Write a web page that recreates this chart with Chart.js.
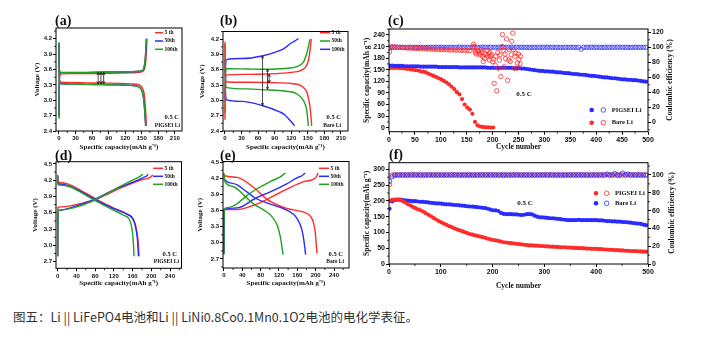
<!DOCTYPE html>
<html>
<head>
<meta charset="utf-8">
<script src="https://cdn.jsdelivr.net/npm/chart.js@4/dist/chart.umd.min.js"></script>
<style>
  body { margin: 0; background: #fff; width: 706px; height: 338px; position: relative; overflow: hidden; }
  canvas { position: absolute; }
  #cap { position: absolute; left: 13px; top: 308px; font: 12.5px 'Noto Sans CJK SC', sans-serif; color: #333; white-space: nowrap; line-height: 17px; }
</style>
</head>
<body>
<canvas id="pa"></canvas>
<canvas id="pb"></canvas>
<canvas id="pc"></canvas>
<canvas id="pd"></canvas>
<canvas id="pe"></canvas>
<canvas id="pf"></canvas>
<div id="cap">图五：Li || LiFePO4电池和Li || LiNi0.8Co0.1Mn0.1O2电池的电化学表征。</div>
<script>
// ---- tick labels ----
const aXTicks = [0, 30, 60, 90, 120, 150, 180, 210];
const aYTicks = [2.4, 2.7, 3.0, 3.3, 3.6, 3.9, 4.2];
const dXTicks = [0, 40, 80, 120, 160, 200, 240];
const dYTicks = [2.7, 3.0, 3.3, 3.6, 3.9, 4.2, 4.5];
const cXTicks = [0, 50, 100, 150, 200, 250, 300, 350, 400, 450, 500];
const cYTicks = [0, 30, 60, 90, 120, 150, 180, 210, 240];
const cY2Ticks = [0, 20, 40, 60, 80, 100, 120];
const fXTicks = [0, 100, 200, 300, 400, 500];
const fYTicks = [0, 50, 100, 150, 200, 250, 300];
const fY2Ticks = [0, 20, 40, 60, 80, 100];

const cycleLabels = ['5 th', '50th', '100th'];

// ---- (a) PIGSEI Li | LiFePO4 ----
const aRedChgX = [0, 0.5, 2, 5, 20, 50, 80, 110, 130, 145, 152, 155, 157, 158.5, 159.5];
const aRedChgV = [2.68, 3.30, 3.50, 3.515, 3.52, 3.52, 3.525, 3.53, 3.535, 3.545, 3.565, 3.61, 3.74, 3.95, 4.2];
const aRedDisX = [0, 0.5, 2, 5, 20, 50, 80, 110, 130, 145, 150, 154, 156, 157.5, 158.5];
const aRedDisV = [4.1, 3.5, 3.36, 3.35, 3.345, 3.34, 3.335, 3.33, 3.32, 3.30, 3.26, 3.15, 2.95, 2.7, 2.5];
const aBluChgX = [0, 0.5, 2, 5, 20, 50, 80, 110, 130, 145, 151, 154, 156, 157.5, 158.5];
const aBluChgV = [2.7, 3.35, 3.53, 3.545, 3.545, 3.545, 3.55, 3.55, 3.555, 3.565, 3.58, 3.63, 3.76, 3.96, 4.2];
const aBluDisX = [0, 0.5, 2, 5, 20, 50, 80, 110, 130, 143, 148, 152, 154.5, 156, 157];
const aBluDisV = [4.12, 3.45, 3.32, 3.32, 3.315, 3.31, 3.305, 3.30, 3.29, 3.27, 3.23, 3.12, 2.92, 2.68, 2.5];
const aGrnChgX = [0, 0.5, 1.5, 3, 20, 50, 80, 110, 130, 145, 151, 154, 156, 157.5, 158.5];
const aGrnChgV = [2.64, 3.4, 3.58, 3.54, 3.54, 3.54, 3.545, 3.55, 3.555, 3.565, 3.58, 3.63, 3.78, 4.0, 4.2];
const aGrnDisX = [0, 0.5, 2, 5, 20, 50, 80, 110, 130, 143, 148, 152, 154.5, 156, 157.5];
const aGrnDisV = [4.13, 3.5, 3.33, 3.32, 3.315, 3.31, 3.305, 3.30, 3.29, 3.27, 3.23, 3.13, 2.93, 2.7, 2.52];
const aArrows = [[71, 3.32, 3.54], [76, 3.32, 3.54], [81, 3.32, 3.54]];

// ---- (b) Bare Li | LiFePO4 ----
const bRedChgX = [0, 0.5, 3, 40, 82, 120, 136, 145, 148, 151, 154, 155.5, 156.5];
const bRedChgV = [2.62, 3.30, 3.50, 3.51, 3.52, 3.55, 3.58, 3.64, 3.69, 3.78, 3.98, 4.12, 4.2];
const bRedDisX = [0, 0.5, 3, 40, 82, 120, 136, 145, 148, 151, 154, 156, 157];
const bRedDisV = [4.15, 3.55, 3.36, 3.355, 3.35, 3.33, 3.30, 3.22, 3.17, 3.05, 2.87, 2.65, 2.5];
const bGrnChgX = [0, 0.5, 3, 40, 67, 110, 130, 142, 148, 151, 153, 154];
const bGrnChgV = [2.75, 3.40, 3.62, 3.615, 3.61, 3.625, 3.66, 3.75, 3.92, 4.05, 4.15, 4.2];
const bGrnDisX = [0, 0.5, 3, 40, 67, 110, 130, 142, 146, 148, 150, 151];
const bGrnDisV = [4.1, 3.5, 3.25, 3.225, 3.21, 3.18, 3.13, 3.0, 2.9, 2.81, 2.62, 2.5];
const bBluChgX = [0, 0.5, 3, 30, 67, 100, 110, 118, 126, 133];
const bBluChgV = [3.0, 3.5, 3.80, 3.82, 3.87, 3.98, 4.04, 4.11, 4.16, 4.21];
const bBluDisX = [0, 0.5, 3, 30, 67, 100, 108, 115, 121, 126];
const bBluDisV = [3.8, 3.3, 3.01, 2.98, 2.90, 2.77, 2.72, 2.64, 2.57, 2.5];
const bArrows = [[68, 2.9, 3.87], [77, 3.22, 3.61], [80, 3.35, 3.51]];

// ---- (d) PIGSEI Li | NCM811 ----
const dRedChgX = [0, 0.5, 5, 33, 62, 83, 110, 140, 176, 194, 200, 203];
const dRedChgV = [2.82, 3.70, 3.71, 3.74, 3.80, 3.85, 3.96, 4.08, 4.2, 4.24, 4.27, 4.3];
const dRedDisX = [0, 0.5, 4, 23, 48, 83, 119, 147, 162, 168, 171.5, 174];
const dRedDisV = [4.3, 4.17, 4.16, 4.13, 4.02, 3.85, 3.69, 3.58, 3.47, 3.31, 3.1, 2.8];
const dBluChgX = [0, 0.5, 4, 33, 76, 119, 162, 183, 190, 193];
const dBluChgV = [2.8, 3.62, 3.65, 3.71, 3.84, 4.02, 4.17, 4.25, 4.28, 4.31];
const dBluDisX = [0, 0.5, 4, 23, 48, 83, 119, 147, 162, 167, 170.5, 172.5];
const dBluDisV = [4.28, 4.14, 4.13, 4.10, 4.0, 3.83, 3.68, 3.58, 3.47, 3.31, 3.1, 2.8];
const dGrnChgX = [0, 0.5, 4, 33, 76, 119, 162, 176, 182];
const dGrnChgV = [2.8, 3.63, 3.65, 3.69, 3.82, 4.02, 4.21, 4.27, 4.31];
const dGrnDisX = [0, 0.5, 4, 26, 55, 83, 119, 140, 155, 160, 162, 163];
const dGrnDisV = [4.28, 4.12, 4.11, 4.08, 3.95, 3.81, 3.65, 3.56, 3.44, 3.22, 3.0, 2.8];

// ---- (e) Bare Li | NCM811 ----
const eRedChgX = [0, 0.5, 29, 65, 94, 137, 174, 195, 202, 205];
const eRedChgV = [2.8, 3.62, 3.62, 3.70, 3.81, 4.0, 4.14, 4.18, 4.24, 4.3];
const eRedDisX = [0, 2, 29, 65, 94, 137, 174, 188, 195, 199, 201, 203];
const eRedDisV = [4.28, 4.25, 4.22, 4.03, 3.81, 3.64, 3.57, 3.5, 3.38, 3.2, 3.0, 2.8];
const eBluChgX = [0, 0.5, 29, 69, 101, 137, 159, 170, 177];
const eBluChgV = [2.8, 3.62, 3.65, 3.83, 3.95, 4.1, 4.21, 4.25, 4.3];
const eBluDisX = [0, 2, 29, 50, 69, 101, 137, 159, 170, 175, 178];
const eBluDisV = [4.2, 4.17, 4.08, 3.95, 3.83, 3.72, 3.61, 3.46, 3.24, 3.0, 2.78];
const eGrnChgX = [0, 0.5, 10, 29, 47, 65, 101, 123, 134];
const eGrnChgV = [2.78, 3.63, 3.66, 3.73, 3.86, 3.97, 4.14, 4.23, 4.3];
const eGrnDisX = [0, 2, 20, 47, 65, 87, 101, 116, 123, 129];
const eGrnDisV = [4.3, 4.14, 4.05, 3.86, 3.72, 3.61, 3.52, 3.33, 3.11, 2.78];

// ---- cycling: one point every 5 cycles ----
const cycles5 = Array.from({ length: 100 }, (_, i) => 1 + 5 * i);

// (c) LiFePO4, 0.5 C
const cPigCap = [161, 161, 160, 160, 160, 160, 159, 159, 159, 159,
  159, 159, 158, 158, 158, 158, 158, 158, 158, 157,
  157, 157, 157, 157, 157, 157, 157, 156, 156, 156,
  156, 156, 156, 156, 156, 156, 156, 156, 155, 155,
  155, 155, 155, 155, 155, 155, 155, 155, 154, 154,
  154, 153, 153, 152, 151, 150, 149, 148, 147, 147,
  146, 146, 145, 145, 144, 143, 143, 142, 141, 141,
  140, 139, 139, 138, 137, 137, 136, 135, 134, 134,
  133, 132, 131, 130, 130, 129, 128, 128, 127, 126,
  125, 125, 124, 124, 123, 123, 122, 121, 120, 119];
const cPigCe = [99.5, 100, 100, 100.2, 100, 100, 99.8, 100, 100, 100,
  100, 100.2, 100, 100, 99.8, 100, 100, 100, 100.2, 100,
  100, 100, 99.8, 100, 100, 100, 100, 100.2, 100, 100,
  100, 99.8, 100, 100, 100, 100, 100.2, 100, 100, 100,
  100, 100, 100, 99.8, 100, 100, 100, 100, 100, 100.2,
  100, 100, 100, 100, 99.6, 100, 100, 100, 100, 100,
  100, 100.2, 100, 100, 100, 100, 99.8, 100, 100, 100,
  100, 100, 100, 100, 97.5, 100, 100, 100, 100.2, 100,
  100, 100, 99.8, 100, 100, 100, 100, 100, 100.2, 100,
  100, 100, 100, 99.8, 100, 100, 100, 100, 100, 100];
const cBareCap = [154, 155, 155, 155, 154, 154, 153, 152, 151, 150,
  149, 148, 146, 145, 143, 140, 137, 134, 131, 128,
  125, 121, 117, 112, 106, 100, 92, 86, 74, 60,
  52, 47, 36, 15, 6, 3, 2, 1, 1, 0.5, 0.5];
const cBareCe = [94, 101, 100.5, 100, 100, 99.5, 99.5, 99, 99, 98.8,
  98.5, 98.5, 98.2, 98, 98, 97.8, 97.5, 97.5, 97.3, 97,
  97, 97, 96.8, 96.5, 96.5, 96.5, 96.3, 96.2, 96, 96, 95.8, 95.5];
const cBareCeLateCyc = [163, 164, 166, 167, 169, 171, 173, 174, 176, 178, 179, 181, 182, 184, 185,
  187, 189, 191, 192, 194, 195, 196, 198, 200, 202, 203, 205, 206, 208, 210,
  211, 213, 214, 216, 218, 219, 221, 222, 224, 225, 227, 229, 231, 232, 234,
  236, 237, 239, 240, 242, 243, 245, 247, 248, 250, 251, 253, 254];
const cBareCeLate = [104, 101, 96, 93, 91, 96, 94, 92, 90, 97, 93, 88, 81, 85, 92,
  90, 96, 88, 91, 83, 93, 88, 90, 81, 84, 52, 76, 88, 42, 93,
  72, 83, 90, 61, 101, 117, 96, 74, 91, 85, 111, 56, 83, 97, 81,
  90, 108, 119, 97, 72, 88, 92, 72, 79, 91, 84, 78, 88];

// (f) NCM811, 0.5 C
const fPigCap = [200, 203, 204, 204, 203, 200, 195, 190, 186, 181,
  177, 173, 170, 166, 161, 156, 151, 146, 141, 136,
  132, 128, 124, 120, 117, 113, 110, 107, 104, 101,
  98, 95, 93, 91, 89, 87, 85, 83, 80, 78,
  76, 75, 73, 71, 69, 68, 67, 66, 65, 64,
  63, 62, 61, 60, 59, 59, 58, 58, 57, 57,
  56, 56, 55, 55, 54, 54, 53, 53, 53, 52,
  52, 51, 51, 50, 50, 50, 49, 49, 48, 48,
  48, 47, 47, 46, 46, 45, 45, 44, 44, 43,
  43, 42, 42, 41, 41, 41, 40, 40, 39, 39];
const fBareCap = [175, 198, 202, 204, 204, 203, 202, 201, 200, 199,
  199, 198, 197, 197, 196, 195, 194, 193, 192, 192,
  191, 190, 189, 189, 188, 187, 187, 186, 185, 184,
  183, 182, 182, 181, 180, 179, 178, 177, 175, 172,
  170, 170, 168, 162, 159, 158, 158, 158, 157, 157,
  156, 155, 156, 158, 158, 157, 153, 150, 148, 148,
  147, 146, 145, 145, 144, 143, 142, 141, 140, 139,
  139, 139, 139, 140, 139, 139, 139, 139, 139, 139,
  139, 138, 138, 137, 136, 136, 135, 135, 134, 134,
  133, 133, 132, 131, 130, 129, 128, 127, 125, 123];
const fPigCe = [89, 100, 100.5, 100, 100.2, 100, 99.8, 100, 100, 100.2,
  100, 100, 100, 99.8, 100, 100, 100.2, 100, 100, 100,
  100, 99.8, 100, 100, 100, 100.2, 100, 100, 100, 100,
  100, 100, 99.8, 100, 100, 100, 100, 100.2, 100, 100,
  100, 100, 100, 100, 99.8, 100, 100, 100, 100, 100.2,
  100, 100, 100, 100, 100, 99.8, 100, 100, 100, 100,
  100.2, 100, 100, 100, 100, 100, 99.8, 100, 100, 100,
  100, 100, 100.2, 100, 100, 100, 100, 99.8, 100, 100,
  100, 100, 100, 100, 100.2, 100, 100, 100, 99.8, 100,
  100, 100, 100, 100, 100.2, 100, 100, 100, 100, 100];
const fBareCe = [93, 98, 99.5, 100, 100, 100, 100, 100, 100, 100,
  100, 100, 100, 100, 100, 100, 100, 100, 100, 100,
  100, 100, 100, 100, 100, 100, 100, 100, 100, 100,
  100, 100, 100, 100, 100, 100, 100, 100, 100, 100,
  100, 100, 100, 100, 100, 100, 100, 100, 100, 100,
  100, 100, 100, 100, 100, 100, 100, 100, 100, 100,
  100, 100, 100, 100, 100, 100, 100, 100, 100, 100,
  100, 100, 100, 100, 100, 100, 100, 100, 100, 100,
  100, 100, 100, 100, 101, 100, 100, 101.5, 100, 100,
  102, 100, 101, 100, 100, 100, 100, 100, 100, 100];

// ---- styling ----
const RED = '#ff2b2b', BLUE = '#2b2bff', GREEN = '#21a021';
const SERIF = "'Liberation Serif', 'Times New Roman', serif";
const SANS = "'Liberation Sans', Arial, sans-serif";
const capTitle = 'Specific capacity(mAh g\u207B\u00B9)';

const pts = (xs, ys) => xs.map((x, i) => ({ x, y: ys[i] }));

const vCurve = (label, color, order, cx, cv, dx, dv) => ({
  label, order, borderColor: color, backgroundColor: color,
  showLine: true, pointRadius: 0, borderWidth: 1.4, spanGaps: false,
  cubicInterpolationMode: 'monotone',
  data: pts(cx, cv).concat([{ x: null, y: null }], pts(dx, dv))
});

const dots = (label, color, order, xs, ys, open, axis) => ({
  label, order, yAxisID: axis || 'y', data: pts(xs, ys), showLine: false,
  pointRadius: open ? 2.2 : 2.1,
  pointBorderWidth: open ? 0.8 : 0,
  pointBackgroundColor: open ? 'rgba(0,0,0,0)' : color,
  pointBorderColor: color
});

// extra drawing: frame, minor ticks, panel letters, notes, legends, arrows
const extras = {
  id: 'extras',
  afterDraw(chart, args, o) {
    const ctx = chart.ctx, a = chart.chartArea;
    ctx.save();
    ctx.strokeStyle = '#000';
    ctx.lineWidth = 0.8;
    Object.values(chart.scales).forEach(s => {
      const vals = s.ticks.map(t => t.value);
      if (vals.length < 2) return;
      const half = (vals[1] - vals[0]) / 2;
      ctx.beginPath();
      vals.concat([vals[vals.length - 1] + 2 * half]).forEach(v => {
        const m = v - half;
        if (m < s.min || m > s.max) return;
        const p = s.getPixelForValue(m);
        if (s.axis === 'x') { ctx.moveTo(p, a.bottom); ctx.lineTo(p, a.bottom + 2); }
        else if (s.position === 'left') { ctx.moveTo(a.left, p); ctx.lineTo(a.left - 2, p); }
        else { ctx.moveTo(a.right, p); ctx.lineTo(a.right + 2, p); }
      });
      ctx.stroke();
    });
    ctx.lineWidth = 1;
    ctx.strokeRect(a.left, a.top, a.right - a.left, a.bottom - a.top);

    if (o.arrows) {
      const xs = chart.scales.x, ys = chart.scales.y;
      ctx.lineWidth = 0.7;
      o.arrows.forEach(([x, v1, v2]) => {
        const X = xs.getPixelForValue(x), Y1 = ys.getPixelForValue(v1), Y2 = ys.getPixelForValue(v2);
        ctx.beginPath();
        ctx.moveTo(X, Y1); ctx.lineTo(X, Y2);
        ctx.moveTo(X - 1.3, Y1 - 2.5); ctx.lineTo(X, Y1); ctx.lineTo(X + 1.3, Y1 - 2.5);
        ctx.moveTo(X - 1.3, Y2 + 2.5); ctx.lineTo(X, Y2); ctx.lineTo(X + 1.3, Y2 + 2.5);
        ctx.stroke();
      });
    }

    // page coordinates from here
    ctx.translate(-o.ox, -o.oy);
    ctx.fillStyle = '#111';
    ctx.textBaseline = 'middle';
    (o.texts || []).forEach(t => {
      ctx.save();
      ctx.font = `bold ${t.size}px ${SERIF}`;
      ctx.textAlign = t.align || 'left';
      ctx.translate(t.x, t.y);
      if (t.rot) ctx.rotate(t.rot);
      ctx.fillText(t.text, 0, 0);
      ctx.restore();
    });
    if (o.lines) {
      const L = o.lines;
      ctx.font = `bold ${L.size}px ${SERIF}`;
      ctx.textAlign = 'left';
      chart.data.datasets.forEach((d, i) => {
        const y = L.y + i * L.dy;
        ctx.strokeStyle = d.borderColor;
        ctx.lineWidth = 1.5;
        ctx.beginPath(); ctx.moveTo(L.x, y); ctx.lineTo(L.x + L.len, y); ctx.stroke();
        ctx.fillText(d.label, L.x + L.len + 1.5, y);
      });
    }
    if (o.marks) {
      const M = o.marks, ds = chart.data.datasets;
      ctx.font = `bold ${M.size}px ${SERIF}`;
      ctx.textAlign = 'left';
      M.pairs.forEach(([fi, oi], r) => {
        const y = M.y + r * M.dy;
        ctx.fillStyle = ds[fi].pointBackgroundColor;
        ctx.beginPath(); ctx.arc(M.x1, y, 2.3, 0, Math.PI * 2); ctx.fill();
        ctx.strokeStyle = ds[oi].pointBorderColor; ctx.lineWidth = 0.8;
        ctx.beginPath(); ctx.arc(M.x2, y, 2.3, 0, Math.PI * 2); ctx.stroke();
        ctx.fillStyle = '#111';
        ctx.fillText(ds[fi].label, M.x3, y);
      });
    }
    ctx.restore();
  }
};

function makePanel(id, rect, area, p) {
  const lh = p.titleSize * 1.2;
  const padL = p.yTitleX - rect.l - lh / 2;
  const xBottom = p.xTitleY + lh / 2;
  const rW = p.y2 ? p.y2.width : 0;
  const cv = document.getElementById(id);
  cv.width = rect.w; cv.height = rect.h;
  cv.style.left = rect.l + 'px'; cv.style.top = rect.t + 'px';
  const titleFont = { family: SERIF, size: p.titleSize, weight: 'bold', lineHeight: 1.2 };
  const axis = spec => ({
    type: 'linear', min: spec.min, max: spec.max,
    afterBuildTicks: s => { s.ticks = spec.ticks.map(v => ({ value: v })); },
    grid: { drawOnChartArea: false, color: '#000', tickLength: 3, lineWidth: 1 },
    border: { display: false },
    ticks: {
      autoSkip: false, maxRotation: 0, padding: 1, color: '#111',
      font: { family: SANS, size: p.tickSize, weight: 'bold' },
      callback: spec.fmt || (v => v)
    }
  });
  const scales = {
    x: Object.assign(axis(p.x), {
      position: 'bottom',
      title: { display: true, text: p.x.title, font: titleFont, padding: 0, color: '#111' },
      afterFit: s => { s.height = xBottom - area.B; }
    }),
    y: Object.assign(axis(p.y), {
      position: 'left',
      title: { display: true, text: p.y.title, font: titleFont, padding: 0, color: '#111' },
      afterFit: s => { s.width = area.L - rect.l - padL; }
    })
  };
  if (p.y2) {
    scales.y2 = Object.assign(axis(p.y2), { position: 'right', afterFit: s => { s.width = rW; } });
  }
  p.extras.ox = rect.l; p.extras.oy = rect.t;
  return new Chart(cv, {
    type: 'scatter',
    data: { datasets: p.datasets },
    options: {
      responsive: false, animation: false, devicePixelRatio: 1, events: [],
      layout: { padding: { top: area.T - rect.t, right: rect.l + rect.w - area.R - rW, bottom: rect.t + rect.h - xBottom, left: padL } },
      scales,
      plugins: { legend: { display: false }, tooltip: { enabled: false }, extras: p.extras }
    },
    plugins: [extras]
  });
}

const volt = v => v.toFixed(1);

// (a)
makePanel('pa', { l: 0, t: 0, w: 195, h: 152 }, { L: 56, T: 28, R: 182, B: 131 }, {
  titleSize: 7, tickSize: 6, yTitleX: 36.7, xTitleY: 146.7,
  x: { min: -5.4, max: 223, ticks: aXTicks, title: capTitle },
  y: { min: 2.4, max: 4.41, ticks: aYTicks, title: 'Voltage (V)', fmt: volt },
  datasets: [
    vCurve(cycleLabels[0], RED, 2, aRedChgX, aRedChgV, aRedDisX, aRedDisV),
    vCurve(cycleLabels[1], BLUE, 1, aBluChgX, aBluChgV, aBluDisX, aBluDisV),
    vCurve(cycleLabels[2], GREEN, 0, aGrnChgX, aGrnChgV, aGrnDisX, aGrnDisV)
  ],
  extras: {
    arrows: aArrows,
    lines: { x: 155, y: 32.7, dy: 8.3, len: 8, size: 5.5 },
    texts: [
      { text: '(a)', x: 55, y: 21, size: 14 },
      { text: '0.5 C', x: 179, y: 117.3, size: 6.5, align: 'right' },
      { text: 'PIGSEI Li', x: 180, y: 125.3, size: 5.5, align: 'right' }
    ]
  }
});

// (b)
makePanel('pb', { l: 185, t: 0, w: 175, h: 152 }, { L: 223, T: 31.5, R: 348, B: 131 }, {
  titleSize: 7, tickSize: 6, yTitleX: 201.7, xTitleY: 146.7,
  x: { min: -3.6, max: 222.8, ticks: aXTicks, title: capTitle },
  y: { min: 2.4, max: 4.35, ticks: aYTicks, title: 'Voltage (V)', fmt: volt },
  datasets: [
    vCurve(cycleLabels[0], RED, 0, bRedChgX, bRedChgV, bRedDisX, bRedDisV),
    vCurve(cycleLabels[1], GREEN, 1, bGrnChgX, bGrnChgV, bGrnDisX, bGrnDisV),
    vCurve(cycleLabels[2], BLUE, 2, bBluChgX, bBluChgV, bBluDisX, bBluDisV)
  ],
  extras: {
    arrows: bArrows,
    lines: { x: 320, y: 32.7, dy: 8.3, len: 10, size: 5.5 },
    texts: [
      { text: '(b)', x: 220, y: 21.7, size: 14 },
      { text: '0.5 C', x: 341, y: 117.7, size: 6.5, align: 'right' },
      { text: 'Bare Li', x: 341, y: 125.3, size: 5.5, align: 'right' }
    ]
  }
});

// (c)
makePanel('pc', { l: 350, t: 0, w: 356, h: 152 }, { L: 389, T: 29, R: 648, B: 131.7 }, {
  titleSize: 7.5, tickSize: 7, yTitleX: 366.7, xTitleY: 146.7,
  x: { min: 0, max: 500, ticks: cXTicks, title: 'Cycle number' },
  y: { min: -10.4, max: 255.5, ticks: cYTicks, title: capTitle },
  y2: { min: -12.5, max: 124.4, ticks: cY2Ticks, width: 22 },
  datasets: [
    dots('PIGSEI Li', BLUE, 3, cycles5, cPigCap, false),
    dots('PIGSEI Li', BLUE, 2, cycles5, cPigCe, true, 'y2'),
    dots('Bare Li', RED, 4, cycles5.slice(0, cBareCap.length), cBareCap, false),
    dots('Bare Li', RED, 1, cycles5.slice(0, cBareCe.length), cBareCe, true, 'y2'),
    dots('Bare Li', RED, 0, cBareCeLateCyc, cBareCeLate, true, 'y2')
  ],
  extras: {
    marks: { x1: 591.7, x2: 603.3, x3: 611.7, y: 110, dy: 12.7, size: 6.5, pairs: [[0, 1], [2, 3]] },
    texts: [
      { text: '(c)', x: 388, y: 21, size: 14 },
      { text: '0.5 C', x: 524, y: 94.3, size: 7, align: 'center' },
      { text: 'Coulombic efficiency (%)', x: 670, y: 80, size: 7.5, align: 'center', rot: -Math.PI / 2 }
    ]
  }
});

// (d)
makePanel('pd', { l: 0, t: 140, w: 195, h: 150 }, { L: 56, T: 161.7, R: 181.5, B: 268.3 }, {
  titleSize: 7, tickSize: 6, yTitleX: 35, xTitleY: 282.7,
  x: { min: -3.6, max: 264.5, ticks: dXTicks, title: capTitle },
  y: { min: 2.578, max: 4.542, ticks: dYTicks, title: 'Voltage (V)', fmt: volt },
  datasets: [
    vCurve(cycleLabels[0], RED, 2, dRedChgX, dRedChgV, dRedDisX, dRedDisV),
    vCurve(cycleLabels[1], BLUE, 1, dBluChgX, dBluChgV, dBluDisX, dBluDisV),
    vCurve(cycleLabels[2], GREEN, 0, dGrnChgX, dGrnChgV, dGrnDisX, dGrnDisV)
  ],
  extras: {
    lines: { x: 153, y: 168.3, dy: 8, len: 10, size: 5.5 },
    texts: [
      { text: '(d)', x: 55, y: 156.7, size: 14 },
      { text: '0.5 C', x: 177, y: 254, size: 6.5, align: 'right' },
      { text: 'PIGSEI Li', x: 179, y: 262, size: 5.5, align: 'right' }
    ]
  }
});

// (e)
makePanel('pe', { l: 185, t: 140, w: 175, h: 150 }, { L: 223, T: 161.5, R: 349, B: 268 }, {
  titleSize: 7, tickSize: 6, yTitleX: 200, xTitleY: 282.7,
  x: { min: -2, max: 272.6, ticks: dXTicks, title: capTitle },
  y: { min: 2.53, max: 4.515, ticks: dYTicks, title: 'Voltage (V)', fmt: volt },
  datasets: [
    vCurve(cycleLabels[0], RED, 2, eRedChgX, eRedChgV, eRedDisX, eRedDisV),
    vCurve(cycleLabels[1], BLUE, 1, eBluChgX, eBluChgV, eBluDisX, eBluDisV),
    vCurve(cycleLabels[2], GREEN, 0, eGrnChgX, eGrnChgV, eGrnDisX, eGrnDisV)
  ],
  extras: {
    lines: { x: 319, y: 168.3, dy: 8, len: 10, size: 5.5 },
    texts: [
      { text: '(e)', x: 220, y: 156.7, size: 14 },
      { text: '0.5 C', x: 343, y: 254, size: 6.5, align: 'right' },
      { text: 'Bare Li', x: 344, y: 262, size: 5.5, align: 'right' }
    ]
  }
});

// (f)
makePanel('pf', { l: 350, t: 140, w: 356, h: 152 }, { L: 389, T: 162.7, R: 648, B: 264 }, {
  titleSize: 7.5, tickSize: 7, yTitleX: 366.7, xTitleY: 285.7,
  x: { min: 0, max: 500, ticks: fXTicks, title: 'Cycle number' },
  y: { min: 0, max: 321, ticks: fYTicks, title: capTitle },
  y2: { min: 0, max: 113.8, ticks: fY2Ticks, width: 22 },
  datasets: [
    dots('PIGSEI Li', RED, 2, cycles5, fPigCap, false),
    dots('PIGSEI Li', RED, 1, cycles5, fPigCe, true, 'y2'),
    dots('Bare Li', BLUE, 3, cycles5, fBareCap, false),
    dots('Bare Li', BLUE, 0, cycles5, fBareCe, true, 'y2')
  ],
  extras: {
    marks: { x1: 596, x2: 606.7, x3: 615, y: 193.3, dy: 10, size: 6.5, pairs: [[0, 1], [2, 3]] },
    texts: [
      { text: '(f)', x: 389, y: 155, size: 14 },
      { text: '0.5 C', x: 525, y: 203.3, size: 7, align: 'center' },
      { text: 'Coulombic efficiency (%)', x: 671.7, y: 213, size: 7.5, align: 'center', rot: -Math.PI / 2 }
    ]
  }
});
</script>
</body>
</html>
